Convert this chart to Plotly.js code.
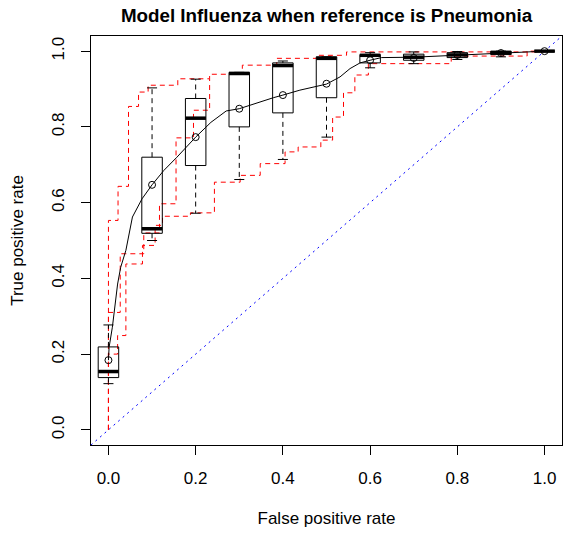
<!DOCTYPE html>
<html>
<head>
<meta charset="utf-8">
<script src="https://cdn.plot.ly/plotly-3.0.1.min.js"></script>
<style>
  html, body { margin: 0; padding: 0; background: #ffffff; }
  #chart { width: 563px; height: 537px; }
</style>
</head>
<body>
<div id="chart"></div>
<script>
// Vertically averaged ROC: box plots of TPR at fixed FPR cut points
const boxFpr    = [0.0, 0.1, 0.2, 0.3, 0.4, 0.5, 0.6, 0.7, 0.8, 0.9, 1.0];
const boxLower  = [0.122, 0.500, 0.572, 0.661, 0.714, 0.773, 0.956, 0.967, 0.978, 0.985, 1.0];
const boxQ1     = [0.138, 0.519, 0.698, 0.800, 0.837, 0.877, 0.969, 0.976, 0.983, 0.991, 1.0];
const boxMedian = [0.154, 0.531, 0.823, 0.941, 0.962, 0.981, 0.989, 0.984, 0.990, 0.996, 1.0];
const boxQ3     = [0.219, 0.720, 0.875, 0.944, 0.969, 0.985, 0.991, 0.992, 0.996, 1.0, 1.0];
const boxUpper  = [0.277, 0.903, 0.926, 0.944, 0.974, 0.985, 0.996, 0.998, 0.999, 1.0, 1.0];
const boxMean   = [0.184, 0.647, 0.773, 0.848, 0.884, 0.914, 0.976, 0.982, 0.990, 0.995, 1.0];

// Averaged ROC curve
const meanFpr = [0.0, 0.0015, 0.009, 0.013, 0.021, 0.028, 0.040, 0.055, 0.077, 0.1, 0.127, 0.157,
                 0.2, 0.235, 0.270, 0.3, 0.348, 0.378, 0.4, 0.439, 0.5, 0.531, 0.554, 0.577,
                 0.6, 0.626, 0.7, 0.8, 0.9, 1.0];
const meanTpr = [0.184, 0.218, 0.271, 0.315, 0.385, 0.429, 0.474, 0.562, 0.610, 0.647, 0.685, 0.720,
                 0.773, 0.812, 0.842, 0.848, 0.867, 0.877, 0.884, 0.897, 0.913, 0.932, 0.954, 0.969,
                 0.976, 0.983, 0.984, 0.989, 0.994, 1.0];

// Individual ROC curves (step functions)
const rocHighFpr = [0, 0, 0.022, 0.022, 0.046, 0.046, 0.069, 0.069, 0.091, 0.091, 0.159, 0.159,
                    0.232, 0.232, 0.307, 0.307, 0.386, 0.386, 0.478, 0.478, 0.546, 0.546, 1.0, 1.0];
const rocHighTpr = [0, 0.553, 0.553, 0.643, 0.643, 0.854, 0.854, 0.892, 0.892, 0.910, 0.910, 0.927,
                    0.927, 0.939, 0.939, 0.963, 0.963, 0.981, 0.981, 0.989, 0.989, 0.998, 0.998, 1.0];

const rocMidFpr = [0, 0, 0.027, 0.027, 0.081, 0.081, 0.117, 0.117, 0.155, 0.155, 0.195, 0.195, 0.232, 0.232];
const rocMidTpr = [0, 0.310, 0.310, 0.465, 0.465, 0.520, 0.520, 0.597, 0.597, 0.771, 0.771, 0.844, 0.844, 0.927];

const rocLowFpr = [0, 0, 0.021, 0.021, 0.040, 0.040, 0.078, 0.078, 0.107, 0.107, 0.124, 0.124,
                   0.188, 0.188, 0.243, 0.243, 0.302, 0.302, 0.348, 0.348, 0.405, 0.405, 0.435, 0.435,
                   0.487, 0.487, 0.514, 0.514, 0.539, 0.539, 0.565, 0.565, 0.596, 0.596, 0.786, 0.786,
                   0.960, 0.960, 1.0];
const rocLowTpr = [0, 0.200, 0.200, 0.249, 0.249, 0.438, 0.438, 0.487, 0.487, 0.540, 0.540, 0.564,
                   0.564, 0.573, 0.573, 0.654, 0.654, 0.672, 0.672, 0.703, 0.703, 0.734, 0.734, 0.747,
                   0.747, 0.765, 0.765, 0.826, 0.826, 0.890, 0.890, 0.937, 0.937, 0.967, 0.967, 0.987,
                   0.987, 1.0, 1.0];

const tickVals = [0, 0.2, 0.4, 0.6, 0.8, 1.0];
const tickText = ['0.0', '0.2', '0.4', '0.6', '0.8', '1.0'];
const axisRange = [-0.04, 1.04];

// Box geometry (in FPR units)
const halfBox = 0.0235;
const halfStaple = 0.0115;

const boxX = [], boxY = [], medX = [], medY = [], whiskX = [], whiskY = [], stapX = [], stapY = [];
boxFpr.forEach((c, i) => {
  boxX.push(c - halfBox, c + halfBox, c + halfBox, c - halfBox, c - halfBox, null);
  boxY.push(boxQ1[i], boxQ1[i], boxQ3[i], boxQ3[i], boxQ1[i], null);
  medX.push(c - halfBox, c + halfBox, null);
  medY.push(boxMedian[i], boxMedian[i], null);
  whiskX.push(c, c, null, c, c, null);
  whiskY.push(boxQ1[i], boxLower[i], null, boxQ3[i], boxUpper[i], null);
  stapX.push(c - halfStaple, c + halfStaple, null, c - halfStaple, c + halfStaple, null);
  stapY.push(boxLower[i], boxLower[i], null, boxUpper[i], boxUpper[i], null);
});

const red = '#ff0000';
const redDash = '5px,4px';
const traces = [
  { x: axisRange, y: axisRange, mode: 'lines', line: { color: '#0000ff', width: 1, dash: '2px,4px' }, hoverinfo: 'skip' },
  { x: rocHighFpr, y: rocHighTpr, mode: 'lines', line: { color: red, width: 1, dash: redDash } },
  { x: rocMidFpr, y: rocMidTpr, mode: 'lines', line: { color: red, width: 1, dash: redDash } },
  { x: rocLowFpr, y: rocLowTpr, mode: 'lines', line: { color: red, width: 1, dash: redDash } },
  { x: whiskX, y: whiskY, mode: 'lines', line: { color: '#000000', width: 1, dash: '5px,4px' }, connectgaps: false },
  { x: stapX, y: stapY, mode: 'lines', line: { color: '#000000', width: 1 }, connectgaps: false },
  { x: boxX, y: boxY, mode: 'lines', line: { color: '#000000', width: 1 }, connectgaps: false },
  { x: medX, y: medY, mode: 'lines', line: { color: '#000000', width: 3.5 }, connectgaps: false },
  { x: meanFpr, y: meanTpr, mode: 'lines', line: { color: '#000000', width: 1 } },
  { x: boxFpr, y: boxMean, mode: 'markers', marker: { symbol: 'circle-open', size: 7, color: '#000000', line: { width: 1, color: '#000000' } } }
];

const fontFamily = 'Liberation Sans, Arial, sans-serif';
const axisCommon = {
  range: axisRange,
  tickvals: tickVals,
  ticktext: tickText,
  ticks: 'outside',
  ticklen: 9,
  tickwidth: 1,
  tickcolor: '#000000',
  showline: true,
  mirror: true,
  linecolor: '#000000',
  linewidth: 1,
  showgrid: false,
  zeroline: false,
  tickfont: { family: fontFamily, size: 17, color: '#000000' }
};

const layout = {
  width: 563,
  height: 537,
  margin: { l: 91, r: 1, t: 36, b: 92 },
  paper_bgcolor: '#ffffff',
  plot_bgcolor: '#ffffff',
  showlegend: false,
  font: { family: fontFamily, size: 17, color: '#000000' },
  title: {
    text: '<b>Model Influenza when reference is Pneumonia</b>',
    font: { family: fontFamily, size: 18.8, color: '#000000' },
    x: 0.5, xref: 'paper', xanchor: 'center',
    y: 1 - 15 / 537, yref: 'container', yanchor: 'middle'
  },
  xaxis: Object.assign({}, axisCommon, {
    ticklabelstandoff: 9,
    title: { text: 'False positive rate', standoff: 24, font: { family: fontFamily, size: 17, color: '#000000' } }
  }),
  yaxis: Object.assign({}, axisCommon, {
    tickangle: -90,
    ticklabelstandoff: 10,
    title: { text: 'True positive rate', standoff: 21, font: { family: fontFamily, size: 17, color: '#000000' } }
  })
};

Plotly.newPlot('chart', traces, layout, { staticPlot: true, displayModeBar: false });
</script>
</body>
</html>
